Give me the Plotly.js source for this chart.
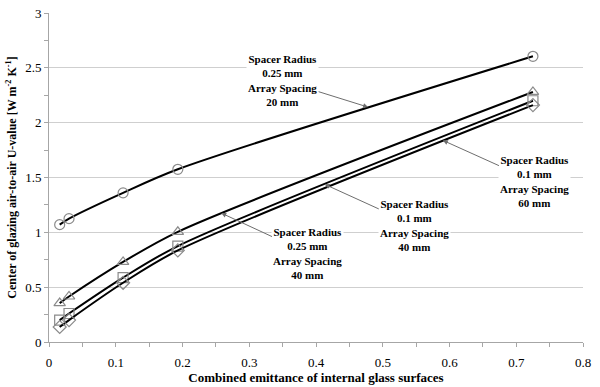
<!DOCTYPE html>
<html>
<head>
<meta charset="utf-8">
<script src="https://cdn.plot.ly/plotly-3.0.1.min.js"></script>
<style>html,body{margin:0;padding:0;background:#fff;}#chart{width:600px;height:387px;}</style>
</head>
<body>
<div id="chart"></div>
<script>
// Data
const emittance = [0.016, 0.030, 0.111, 0.193, 0.725];
const uR025S20 = [1.07, 1.125, 1.36, 1.575, 2.605];   // circles
const uR025S40 = [0.355, 0.415, 0.73, 1.005, 2.28];   // triangles
const uR01S40  = [0.20, 0.26, 0.587, 0.875, 2.20];    // squares
const uR01S60  = [0.137, 0.20, 0.54, 0.835, 2.16];    // diamonds

const seriesNames = [
  'Spacer Radius 0.25 mm, Array Spacing 20 mm',
  'Spacer Radius 0.25 mm, Array Spacing 40 mm',
  'Spacer Radius 0.1 mm, Array Spacing 40 mm',
  'Spacer Radius 0.1 mm, Array Spacing 60 mm'
];
const seriesValues = [uR025S20, uR025S40, uR01S40, uR01S60];
const seriesSymbols = ['circle-open', 'triangle-up-open', 'square-open', 'diamond-open'];

const labelTexts = [
  '<b>Spacer Radius<br>0.25 mm<br>Array Spacing<br>20 mm</b>',
  '<b>Spacer Radius<br>0.25 mm<br>Array Spacing<br>40 mm</b>',
  '<b>Spacer Radius<br>0.1 mm<br>Array Spacing<br>40 mm</b>',
  '<b>Spacer Radius<br>0.1 mm<br>Array Spacing<br>60 mm</b>'
];
// arrow heads (on curves) and label centres, in data units
const arrowHeadX = [0.478, 0.258, 0.413, 0.590];
const labelX = [0.350, 0.388, 0.548, 0.728];
const labelY = [2.385, 0.809, 1.064, 1.46];

function interp(xs, ys, x) {
  for (let i = 0; i < xs.length - 1; i++) {
    if (x >= xs[i] && x <= xs[i + 1]) {
      const t = (x - xs[i]) / (xs[i + 1] - xs[i]);
      return ys[i] + t * (ys[i + 1] - ys[i]);
    }
  }
  return ys[ys.length - 1];
}

const serif = 'Liberation Serif, Times New Roman, serif';

const traces = seriesValues.map((vals, i) => ({
  x: emittance,
  y: vals,
  name: seriesNames[i],
  type: 'scatter',
  mode: 'lines+markers',
  line: {color: '#000', width: 2, shape: 'spline', smoothing: 0.8},
  marker: {symbol: seriesSymbols[i], size: 10, color: '#8a8a8a', line: {width: 1.2, color: '#8a8a8a'}},
  showlegend: false,
  cliponaxis: false
}));

const annotations = seriesValues.map((vals, i) => ({
  x: arrowHeadX[i],
  y: interp(emittance, vals, arrowHeadX[i]) + 0.015,
  xref: 'x', yref: 'y',
  ax: labelX[i], ay: labelY[i],
  axref: 'x', ayref: 'y',
  text: labelTexts[i],
  showarrow: true,
  arrowhead: 2,
  arrowsize: 1,
  arrowwidth: 1,
  arrowcolor: '#6e6e6e',
  bgcolor: '#ffffff',
  borderpad: 1,
  font: {family: serif, size: 11, color: '#000'}
}));

const layout = {
  width: 600,
  height: 387,
  margin: {l: 49, r: 17, t: 13, b: 45},
  paper_bgcolor: '#fff',
  plot_bgcolor: '#fff',
  font: {family: serif, size: 13, color: '#000'},
  xaxis: {
    range: [0, 0.8],
    dtick: 0.1,
    tick0: 0,
    showgrid: false,
    zeroline: false,
    showline: true,
    linecolor: '#a6a6a6',
    linewidth: 1,
    ticks: 'outside',
    ticklen: 4,
    tickcolor: '#a6a6a6',
    ticklabelstandoff: 4,
    minor: {dtick: 0.05, ticks: 'outside', ticklen: 4, tickcolor: '#a6a6a6', showgrid: false},
    tickfont: {family: serif, size: 13, color: '#000'},
    title: {text: '<b>Combined emittance of internal glass surfaces</b>', font: {family: serif, size: 13, color: '#000'}, standoff: 4}
  },
  yaxis: {
    range: [0, 3],
    dtick: 0.5,
    tick0: 0,
    showgrid: true,
    gridcolor: '#cfcfcf',
    gridwidth: 1,
    zeroline: false,
    showline: true,
    linecolor: '#a6a6a6',
    linewidth: 1,
    ticks: 'outside',
    ticklen: 4,
    tickcolor: '#a6a6a6',
    minor: {dtick: 0.25, ticks: 'outside', ticklen: 4, tickcolor: '#a6a6a6', showgrid: false},
    tickfont: {family: serif, size: 13, color: '#000'},
    title: {text: '<b>Center of glazing air-to-air U-value [W m<sup>-2</sup> K<sup>-1</sup>]</b>', font: {family: serif, size: 12, color: '#000'}, standoff: 5}
  },
  annotations: annotations
};

Plotly.newPlot('chart', traces, layout, {staticPlot: true, displayModeBar: false});
</script>
</body>
</html>
